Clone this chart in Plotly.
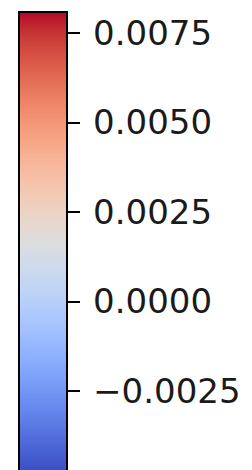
import plotly.graph_objects as go

# Data
vmin = -0.0048
vmax = 0.0081
tick_values = [-0.0025, 0.0, 0.0025, 0.0050, 0.0075]
tick_labels = ["\u2009\u22120.0025", "\u20090.0000", "\u20090.0025", "\u20090.0050", "\u20090.0075"]

coolwarm_rgb = [
    (59, 76, 192), (68, 90, 204), (77, 104, 215), (87, 117, 225), (98, 130, 234),
    (108, 142, 241), (119, 154, 247), (130, 165, 251), (141, 176, 254), (152, 185, 255),
    (163, 194, 255), (174, 201, 253), (184, 208, 249), (194, 213, 244), (204, 217, 238),
    (213, 219, 230), (221, 221, 221), (229, 216, 209), (236, 211, 197), (241, 204, 184),
    (245, 196, 172), (247, 187, 159), (247, 177, 147), (247, 166, 134), (244, 154, 123),
    (241, 141, 111), (236, 127, 99), (229, 112, 89), (222, 96, 77), (213, 80, 67),
    (203, 62, 56), (192, 40, 47), (180, 4, 38),
]
n = len(coolwarm_rgb)
colorscale = [[i / (n - 1), "rgb(%d,%d,%d)" % c] for i, c in enumerate(coolwarm_rgb)]

W, H = 252, 470
bar_len = 462
top_px = 3.5

fig = go.Figure()
fig.add_trace(go.Scatter(
    x=[0, 0], y=[0, 0], mode="markers",
    marker=dict(
        color=[vmin, vmax], colorscale=colorscale, cmin=vmin, cmax=vmax, size=0.1, opacity=0,
        showscale=True,
        colorbar=dict(
            orientation="v",
            lenmode="pixels", len=bar_len,
            thicknessmode="pixels", thickness=48,
            x=11 / W, xanchor="left", xpad=0,
            y=1 - top_px / H, yanchor="top", ypad=0,
            outlinewidth=2, outlinecolor="black",
            tickmode="array", tickvals=tick_values, ticktext=tick_labels,
            ticks="outside", ticklen=12, tickwidth=2, tickcolor="black",
            tickfont=dict(family="DejaVu Sans", size=34, color="#1a1a1a"),
        ),
    ),
    hoverinfo="skip",
))
fig.update_layout(
    width=W, height=H,
    margin=dict(l=0, r=0, t=0, b=0),
    paper_bgcolor="white", plot_bgcolor="white",
    xaxis=dict(visible=False), yaxis=dict(visible=False),
    showlegend=False,
)
fig.write_html("out.html")
